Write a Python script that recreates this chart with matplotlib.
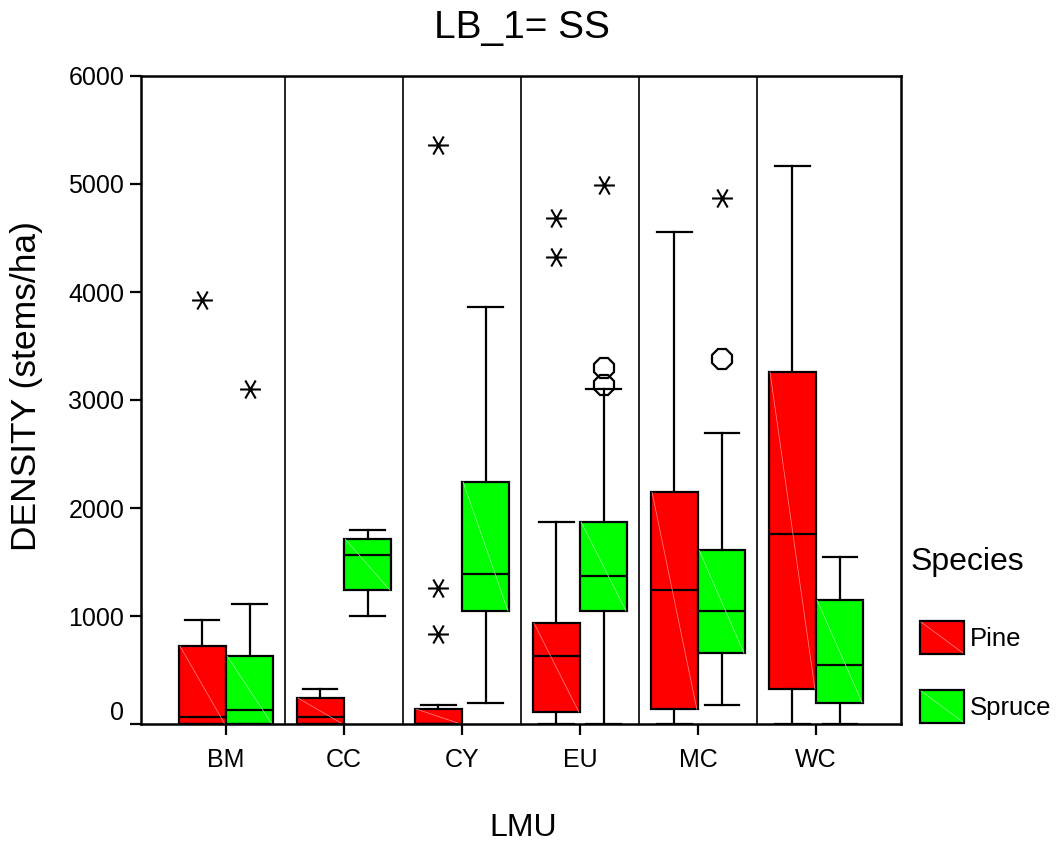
import matplotlib
matplotlib.use('Agg')
import matplotlib.pyplot as plt
import matplotlib.transforms as mtransforms
from matplotlib.patches import Rectangle
from matplotlib.lines import Line2D
from matplotlib.path import Path

plt.rcParams['font.family'] = ['Liberation Sans', 'DejaVu Sans']

lmu = ['BM', 'CC', 'CY', 'EU', 'MC', 'WC']
species = ['Pine', 'Spruce']
colors = ['#ff0000', '#00ff00']
light = ['#ff8c8c', '#9cff9c']

pine_lo = [0, 0, 0, 0, 0, 0]
pine_q1 = [0, 0, 0, 111, 136, 327]
pine_med = [65, 65, 0, 630, 1238, 1756]
pine_q3 = [722, 240, 139, 935, 2148, 3259]
pine_hi = [963, 324, 176, 1870, 4558, 5167]
pine_stars = [[3926], [], [5358, 1259, 833], [4685, 4321], [], []]
pine_circles = [[], [], [], [], [], []]

spruce_lo = [0, 1003, 194, 0, 173, 0]
spruce_q1 = [0, 1238, 1046, 1046, 654, 198]
spruce_med = [130, 1565, 1389, 1370, 1043, 543]
spruce_q3 = [630, 1713, 2241, 1870, 1608, 1145]
spruce_hi = [1111, 1796, 3864, 3105, 2691, 1543]
spruce_stars = [[3099], [], [], [4991], [4873], []]
spruce_circles = [[], [], [], [3293, 3139], [3380], []]

series = [
    (pine_lo, pine_q1, pine_med, pine_q3, pine_hi, pine_stars, pine_circles),
    (spruce_lo, spruce_q1, spruce_med, spruce_q3, spruce_hi, spruce_stars, spruce_circles),
]

# SPSS extreme-value asterisk: horizontal bar plus two diagonals
star = Path([(-1, 0), (1, 0), (-0.5, -0.866), (0.5, 0.866), (-0.5, 0.866), (0.5, -0.866)],
            [Path.MOVETO, Path.LINETO, Path.MOVETO, Path.LINETO, Path.MOVETO, Path.LINETO])

W, H = 1059, 848
fig = plt.figure(figsize=(W / 100, H / 100), dpi=100)
ax = fig.add_axes([141 / W, 124 / H, 760 / W, 648 / H])

width = 0.4
for k, (lo, q1, med, q3, hi, stars, circles) in enumerate(series):
    off = -0.2 if k == 0 else 0.2
    pos = [i + off for i in range(len(lmu))]
    stats = []
    for i in range(len(lmu)):
        stats.append(dict(whislo=lo[i], q1=q1[i], med=med[i], q3=q3[i], whishi=hi[i], fliers=[]))
    ax.bxp(stats, positions=pos, widths=width, capwidths=0.29, patch_artist=True,
           showfliers=False, manage_ticks=False,
           boxprops=dict(facecolor=colors[k], edgecolor='black', linewidth=1.6),
           medianprops=dict(color='black', linewidth=1.6),
           whiskerprops=dict(color='black', linewidth=1.6),
           capprops=dict(color='black', linewidth=1.6))
    for i in range(len(lmu)):
        p = pos[i]
        # faint diagonal highlight inside each box
        ax.plot([p - width / 2 + 0.01, p + width / 2 - 0.01], [q3[i], q1[i]],
                color=light[k], lw=0.5, zorder=2.5)
        for v in stars[i]:
            ax.plot(p, v, marker=star, ms=15, mew=1.5, color='black', ls='none')
        for v in circles[i]:
            ax.plot(p, v, marker='8', ms=15, mew=1.6, mfc='none', mec='black', ls='none')

ax.vlines([i + 0.5 for i in range(len(lmu) - 1)], 0, 6000, color='black', lw=1.2)

ax.set_xlim(-0.72, len(lmu) - 1 + 0.72)
ax.set_ylim(0, 6000)
ax.set_xticks(range(len(lmu)))
ax.set_xticklabels(lmu)
ax.set_yticks(range(0, 6001, 1000))
ax.tick_params(axis='both', length=8, width=1.6, labelsize=18, direction='out')
ax.tick_params(axis='x', pad=9)
ax.tick_params(axis='y', pad=4)
for s in ax.spines.values():
    s.set_linewidth(1.8)

# SPSS lifts the 0 label above the axis line
zero = ax.yaxis.get_major_ticks()[0].label1
zero.set_transform(zero.get_transform() + mtransforms.ScaledTranslation(0, 0.14, fig.dpi_scale_trans))

fig.text(522 / W, 1 - 28 / H, 'LB_1= SS', ha='center', va='center', fontsize=28)
fig.text(27 / W, 1 - 386 / H, 'DENSITY (stems/ha)', ha='center', va='center', rotation=90, fontsize=25.5)
fig.text(523 / W, 1 - 828 / H, 'LMU', ha='center', va='center', fontsize=23)

# legend
fig.text(911 / W, 1 - 562 / H, 'Species', ha='left', va='center', fontsize=23)
for k, name in enumerate(species):
    y0 = 621 + k * 69
    fig.add_artist(Rectangle((920 / W, 1 - (y0 + 33) / H), 44 / W, 33 / H, transform=fig.transFigure,
                             facecolor=colors[k], edgecolor='black', lw=1.6))
    fig.add_artist(Line2D([921 / W, 963 / W], [1 - (y0 + 1) / H, 1 - (y0 + 32) / H],
                          transform=fig.transFigure, color=light[k], lw=0.5))
    fig.text(970 / W, 1 - (y0 + 18) / H, name, ha='left', va='center', fontsize=18.5)

fig.savefig('out.png', dpi=100)
